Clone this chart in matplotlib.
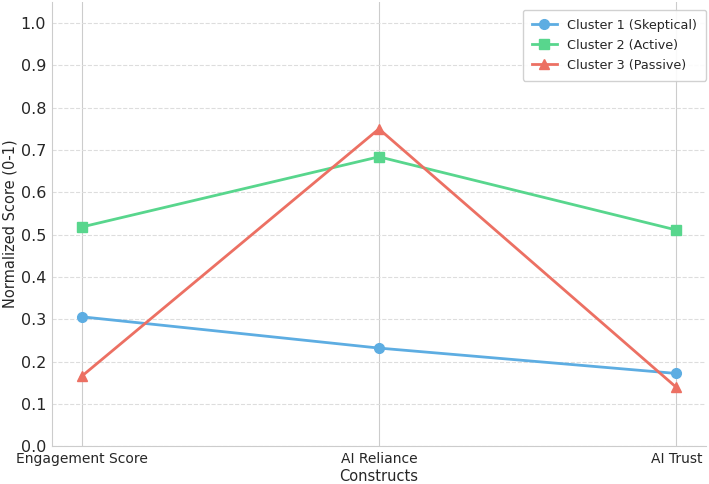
import matplotlib
matplotlib.use("Agg")
import matplotlib.pyplot as plt
import numpy as np

constructs = ["Engagement Score", "AI Reliance", "AI Trust"]
series_names = ["Cluster 1 (Skeptical)", "Cluster 2 (Active)", "Cluster 3 (Passive)"]
cluster1 = [0.306, 0.232, 0.172]
cluster2 = [0.518, 0.684, 0.511]
cluster3 = [0.165, 0.750, 0.139]
colors = ["#5DADE2", "#58D68D", "#EC7063"]
markers = ["o", "s", "^"]

txt = "#262626"
fig = plt.figure(figsize=(7.09, 4.84), dpi=100)
ax = fig.add_axes([0.073, 0.078, 0.923, 0.918])
x = np.arange(len(constructs))
for vals, name, c, m in zip([cluster1, cluster2, cluster3], series_names, colors, markers):
    ax.plot(x, vals, color=c, marker=m, linewidth=2, markersize=7, label=name)

ax.set_xlim(-0.1, 2.1)
ax.set_ylim(0, 1.05)
ax.set_xticks(x)
ax.set_xticklabels(constructs, fontsize=10, color=txt)
yt = np.arange(0, 1.01, 0.1)
ax.set_yticks(yt)
ax.set_yticklabels([f"{v:.1f}" for v in yt], fontsize=11.5, color=txt)
ax.set_xlabel("Constructs", fontsize=10.5, labelpad=2, color=txt)
ax.set_ylabel("Normalized Score (0-1)", fontsize=10.5, color=txt, labelpad=2)
ax.grid(axis="y", linestyle="--", color="#dddddd", linewidth=0.8)
ax.grid(axis="x", linestyle="-", color="#cccccc", linewidth=0.8)
ax.set_axisbelow(True)
for s in ["top", "right"]:
    ax.spines[s].set_visible(False)
for s in ["left", "bottom"]:
    ax.spines[s].set_color("#cccccc")
ax.tick_params(length=0, pad=4)
leg = ax.legend(loc="upper right", fontsize=9.2, framealpha=0.9, edgecolor="#cccccc",
                borderpad=0.7, labelspacing=0.55, borderaxespad=0.0,
                bbox_to_anchor=(1.0, 0.982))
for t in leg.get_texts():
    t.set_color(txt)
fig.savefig("out.png", dpi=100)
